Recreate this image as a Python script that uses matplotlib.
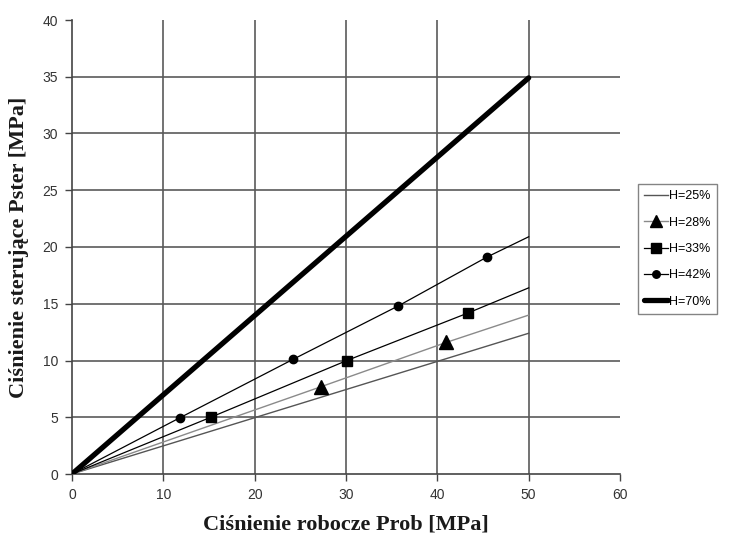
import matplotlib
matplotlib.use("Agg")
import matplotlib.pyplot as plt

# Data
labels = ["H=25%", "H=28%", "H=33%", "H=42%", "H=70%"]
x25 = [0, 50]
y25 = [0, 12.4]
x28 = [0, 27.3, 41.0, 50]
y28 = [0, 7.7, 11.6, 14.0]
x33 = [0, 15.2, 30.1, 43.4, 50]
y33 = [0, 5.0, 10.0, 14.2, 16.4]
x42 = [0, 11.8, 24.2, 35.7, 45.4, 50]
y42 = [0, 4.95, 10.1, 14.8, 19.1, 20.9]
x70 = [0, 50]
y70 = [0, 34.9]

xticks = [0, 10, 20, 30, 40, 50, 60]
yticks = [0, 5, 10, 15, 20, 25, 30, 35, 40]

fig = plt.figure(figsize=(7.33, 5.35), dpi=100)
ax = fig.add_axes([72/733, 61/535, 548/733, 454/535])

grid_c = "#5a5a5a"
for v in xticks[1:-1]:
    ax.plot([v, v], [0, 40], color=grid_c, lw=1.2, zorder=1)
for v in yticks[1:-1]:
    ax.plot([0, 60], [v, v], color=grid_c, lw=1.2, zorder=1)

ax.plot(x25, y25, color="#555555", lw=1.0, label=labels[0], zorder=3)
ax.plot(x28, y28, color="#8a8a8a", lw=1.0, marker="^", ms=10, mfc="black", mec="black",
        markevery=[1, 2], label=labels[1], zorder=3)
ax.plot(x33, y33, color="black", lw=0.9, marker="s", ms=7.5, mfc="black", mec="black",
        markevery=[1, 2, 3], label=labels[2], zorder=3)
ax.plot(x42, y42, color="black", lw=0.9, marker="o", ms=6, mfc="black", mec="black",
        markevery=[1, 2, 3, 4], label=labels[3], zorder=3)
ax.plot(x70, y70, color="black", lw=3.8, solid_capstyle="round", label=labels[4], zorder=4)

ax.set_xlim(0, 60)
ax.set_ylim(0, 40)
ax.set_xticks(xticks)
ax.set_yticks(yticks)
ax.spines["top"].set_visible(False)
ax.spines["right"].set_visible(False)
for s in ("left", "bottom"):
    ax.spines[s].set_color("#444444")
    ax.spines[s].set_linewidth(1.2)
ax.tick_params(direction="out", length=5, width=1.0, color="#444444",
               labelsize=10, labelcolor="#333333", pad=5)
for lab in ax.get_xticklabels() + ax.get_yticklabels():
    lab.set_family("Liberation Sans")
for sp in ax.spines.values():
    sp.set_clip_on(False)

ax.set_xlabel("Ciśnienie robocze Prob [MPa]", family="Liberation Serif",
              fontweight="bold", fontsize=16, color="#1a1a1a", labelpad=9)
ax.set_ylabel("Ciśnienie sterujące Pster [MPa]", family="Liberation Serif",
              fontweight="bold", fontsize=16, color="#1a1a1a", labelpad=10)

leg = ax.legend(loc="upper left", bbox_to_anchor=(638/733, 1 - 184/535),
                bbox_transform=fig.transFigure, frameon=True, fancybox=False,
                prop={"family": "Liberation Sans", "size": 9},
                handlelength=1.9, handletextpad=0.1, borderpad=0.5,
                labelspacing=1.15, borderaxespad=0, markerscale=0.9)
leg.get_frame().set_edgecolor("#666666")
leg.get_frame().set_linewidth(1.0)

fig.savefig("out.png", dpi=100)
